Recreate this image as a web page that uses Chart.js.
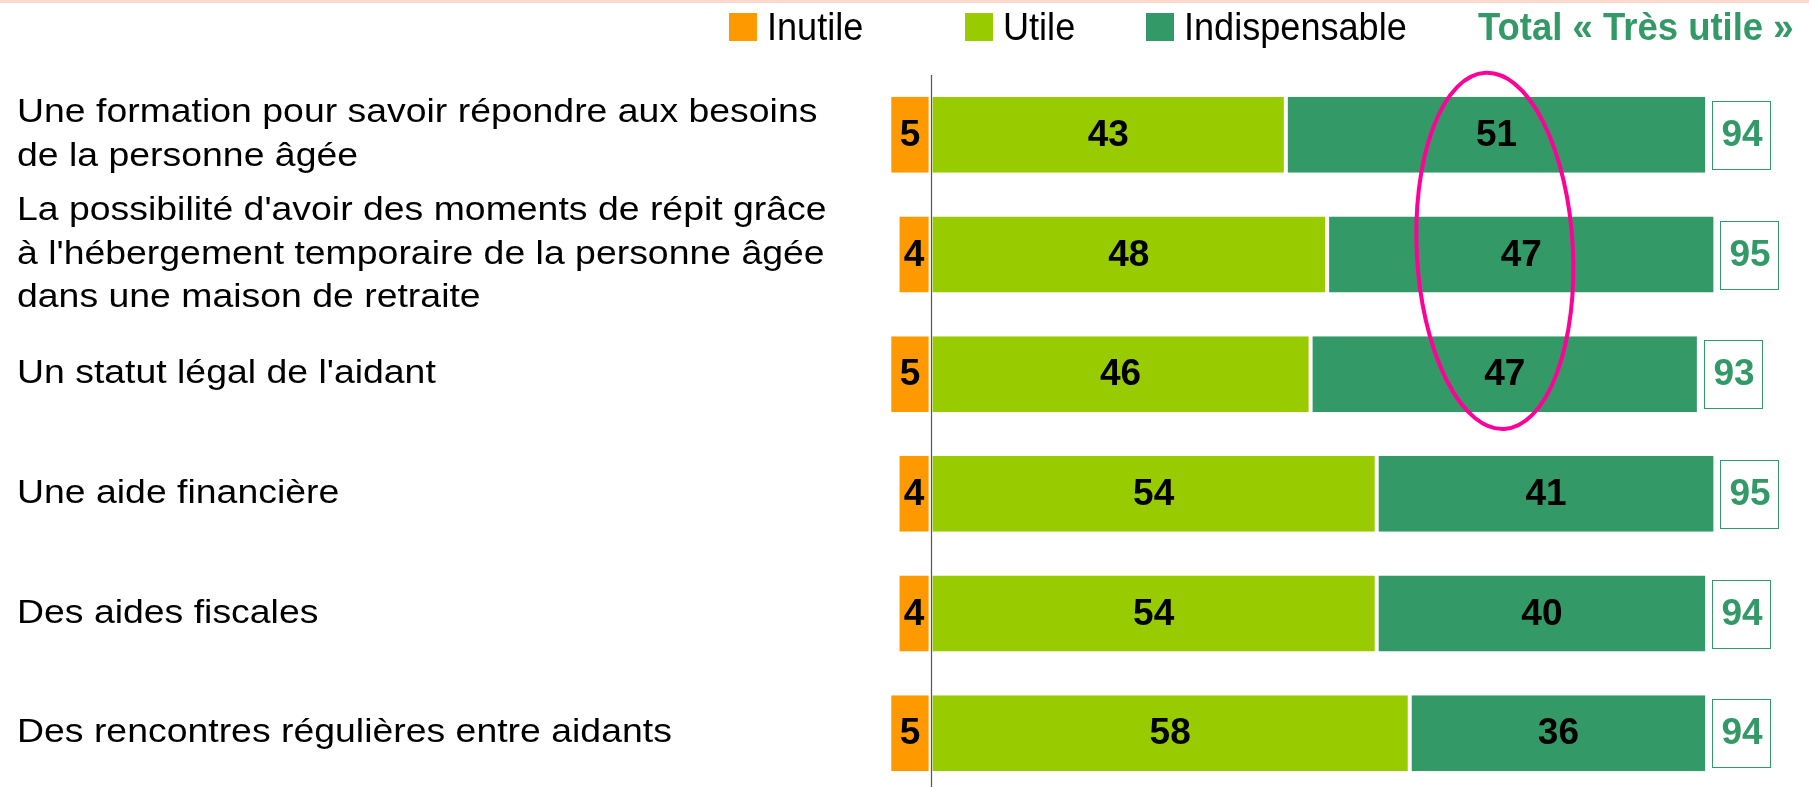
<!DOCTYPE html>
<html lang="fr">
<head>
    <meta charset="UTF-8">
    <title>Utilité des aides pour les aidants</title>
    <script src="https://cdn.jsdelivr.net/npm/chart.js"></script>
    <style>
        html, body {
            margin: 0;
            padding: 0;
            background: #fff;
            overflow: hidden;
        }
        .chart-container {
            position: relative;
            width: 1809px;
            height: 793px;
        }
    </style>
</head>
<body>
    <div class="chart-container">
        <canvas id="myChart"></canvas>
    </div>

    <script>
        const categories = [
            ['Une formation pour savoir répondre aux besoins', 'de la personne âgée'],
            ["La possibilité d'avoir des moments de répit grâce", "à l'hébergement temporaire de la personne âgée", 'dans une maison de retraite'],
            "Un statut légal de l'aidant",
            'Une aide financière',
            'Des aides fiscales',
            'Des rencontres régulières entre aidants'
        ];
        const inutile = [5, 4, 5, 4, 4, 5];
        const utile = [43, 48, 46, 54, 54, 58];
        const indispensable = [51, 47, 47, 41, 40, 36];
        const totalTresUtile = [94, 95, 93, 95, 94, 94];
        const totalLabel = 'Total « Très utile »';

        const FONT = '"Liberation Sans", Arial, sans-serif';
        const GREEN = '#339966';

        // text drawn a little wider/narrower, as on the original slide
        function stretchedText(ctx, text, x, y, sx) {
            ctx.save();
            ctx.translate(x, y);
            ctx.scale(sx, 1);
            ctx.fillText(text, 0, 0);
            ctx.restore();
        }

        const overlay = {
            id: 'overlay',
            afterDatasetsDraw(chart) {
                const { ctx, chartArea, scales: { x, y } } = chart;
                ctx.save();

                // vertical zero line
                const x0 = Math.round(x.getPixelForValue(0)) + 0.5;
                ctx.strokeStyle = '#555';
                ctx.lineWidth = 1.2;
                ctx.beginPath();
                ctx.moveTo(x0, chartArea.top);
                ctx.lineTo(x0, chartArea.bottom);
                ctx.stroke();

                // values inside the bars
                ctx.font = 'bold 37px ' + FONT;
                ctx.textAlign = 'center';
                ctx.textBaseline = 'middle';
                const series = [inutile, utile, indispensable];
                series.forEach((vals, d) => {
                    chart.getDatasetMeta(d).data.forEach((bar, i) => {
                        ctx.fillStyle = '#000';
                        ctx.fillText(vals[i], (bar.x + bar.base) / 2, bar.y + 1);
                    });
                });

                // total boxes
                chart.getDatasetMeta(2).data.forEach((bar, i) => {
                    const w = 58, h = 68;
                    const left = Math.round(bar.x + 5);
                    const top = Math.round(bar.y - h / 2);
                    ctx.strokeStyle = GREEN;
                    ctx.lineWidth = 1;
                    ctx.strokeRect(left + 0.5, top + 0.5, w, h);
                    ctx.fillStyle = GREEN;
                    ctx.fillText(totalTresUtile[i], left + w / 2 + 1, bar.y + 1);
                });

                // pink ellipse round the "Indispensable" column
                const cx = x.getPixelForValue(68.3);
                const cy = y.getPixelForValue(0.97);
                const rx = x.getPixelForValue(9.45) - x.getPixelForValue(0);
                const ry = y.getPixelForValue(1.49) - y.getPixelForValue(0);
                ctx.strokeStyle = '#ff0099';
                ctx.lineWidth = 4;
                ctx.beginPath();
                ctx.ellipse(cx, cy, rx, ry, -0.053, 0, Math.PI * 2);
                ctx.stroke();

                ctx.restore();
            },
            afterDraw(chart) {
                const { ctx, scales: { y } } = chart;
                ctx.save();

                // thin band at the top of the slide
                ctx.fillStyle = '#fdd9cf';
                ctx.fillRect(0, 0, chart.width, 3);

                // category labels
                ctx.font = '34px ' + FONT;
                ctx.fillStyle = '#000';
                ctx.textAlign = 'left';
                ctx.textBaseline = 'alphabetic';
                chart.data.labels.forEach((lab, i) => {
                    const lines = Array.isArray(lab) ? lab : [lab];
                    const cy = y.getPixelForValue(i) - 3;
                    lines.forEach((t, k) => {
                        const base = cy + (k - (lines.length - 1) / 2) * 43.5 + 12;
                        stretchedText(ctx, t, 17, base, 1.1);
                    });
                });

                // legend
                const itemX = [729, 965, 1146];
                ctx.font = '38px ' + FONT;
                chart.data.datasets.forEach((ds, i) => {
                    ctx.fillStyle = ds.backgroundColor;
                    ctx.fillRect(itemX[i], 13, 28, 28);
                    ctx.fillStyle = '#000';
                    stretchedText(ctx, ds.label, itemX[i] + 38, 40, 0.95);
                });
                ctx.font = 'bold 38px ' + FONT;
                ctx.fillStyle = GREEN;
                stretchedText(ctx, totalLabel, 1478, 40, 0.96);

                ctx.restore();
            }
        };

        const ctx = document.getElementById('myChart').getContext('2d');
        window.myBarChart = new Chart(ctx, {
            type: 'bar',
            data: {
                labels: categories,
                datasets: [
                    { label: 'Inutile', data: inutile.map(v => -v), backgroundColor: '#ff9900' },
                    { label: 'Utile', data: utile, backgroundColor: '#99cc00' },
                    { label: 'Indispensable', data: indispensable, backgroundColor: GREEN }
                ]
            },
            options: {
                indexAxis: 'y',
                responsive: true,
                maintainAspectRatio: false,
                animation: false,
                layout: {
                    padding: { left: 17, top: 75, right: 11, bottom: 0 }
                },
                datasets: {
                    bar: {
                        barPercentage: 0.635,
                        categoryPercentage: 1,
                        borderColor: '#fff',
                        borderWidth: { left: 2, right: 2, top: 0, bottom: 0 },
                        borderSkipped: false
                    }
                },
                scales: {
                    x: {
                        stacked: true,
                        min: -10,
                        max: 105,
                        display: false
                    },
                    y: {
                        stacked: true,
                        grid: { display: false },
                        border: { display: false },
                        ticks: { display: false },
                        afterFit: function(scale) {
                            scale.width = 831;
                            scale.paddingTop = 0;
                            scale.paddingBottom = 0;
                        }
                    }
                },
                plugins: {
                    legend: { display: false },
                    tooltip: { enabled: false }
                }
            },
            plugins: [overlay]
        });
    </script>
</body>
</html>
